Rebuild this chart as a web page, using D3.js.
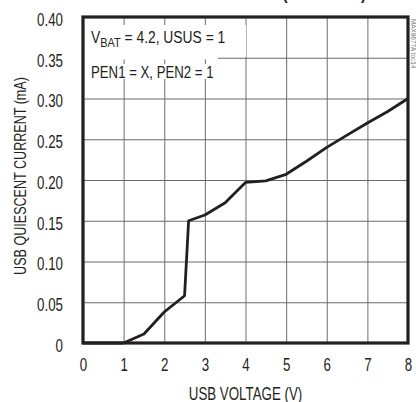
<!DOCTYPE html>
<html>
<head>
<meta charset="utf-8">
<script src="https://cdn.jsdelivr.net/npm/d3@7"></script>
<style>
  html, body { margin: 0; padding: 0; background: #fff; }
  svg { display: block; }
  text { font-family: "Liberation Sans", Arial, sans-serif; fill: #231f20; }
</style>
</head>
<body>
<svg id="chart" width="416" height="402"></svg>
<script>
// USB quiescent current vs. USB voltage (suspend mode)
const voltage = [0, 1, 1.5, 2, 2.5, 2.6, 3, 3.5, 4, 4.5, 5, 5.5, 6, 6.5, 7, 7.5, 8];
const current = [0, 0, 0.011, 0.038, 0.058, 0.150, 0.157, 0.172, 0.197, 0.199, 0.207, 0.223, 0.240, 0.255, 0.270, 0.284, 0.300];

const xTicks = [0, 1, 2, 3, 4, 5, 6, 7, 8];
const yTicks = [0, 0.05, 0.10, 0.15, 0.20, 0.25, 0.30, 0.35, 0.40];
const yTickLabels = ["0", "0.05", "0.10", "0.15", "0.20", "0.25", "0.30", "0.35", "0.40"];

const margin = { left: 83, right: 8, top: 17, bottom: 59 };
const W = 416, H = 402;
const innerW = W - margin.left - margin.right;
const innerH = H - margin.top - margin.bottom;
const K = 0.74;          // horizontal squeeze giving a condensed face

const svg = d3.select("#chart");

const x = d3.scaleLinear().domain([0, 8]).range([margin.left, margin.left + innerW]);
const y = d3.scaleLinear().domain([0, 0.4]).range([margin.top + innerH, margin.top]);

// place a condensed text with its anchor at (px, py)
function condensedText(parent, px, py, k, size, anchor) {
  return parent.append("text")
    .attr("transform", `translate(${px},${py}) scale(${k},1)`)
    .attr("text-anchor", anchor || "start")
    .style("font-size", size + "px");
}

// heading running off the top edge
condensedText(svg, 366, -1, 0.8, 19, "end")
  .style("font-weight", "bold")
  .text("(SUSPEND)");

// grid
const grid = svg.append("g").attr("class", "grid");
grid.append("g")
  .attr("transform", `translate(0,${margin.top + innerH})`)
  .call(d3.axisBottom(x).tickValues(xTicks.slice(1, -1)).tickSize(-innerH).tickFormat(""))
  .call(g => g.select(".domain").remove())
  .call(g => g.selectAll("line").attr("stroke", "#7a7a7a").attr("stroke-width", 1.1));
grid.append("g")
  .attr("transform", `translate(${margin.left},0)`)
  .call(d3.axisLeft(y).tickValues(yTicks.slice(1, -1)).tickSize(-innerW).tickFormat(""))
  .call(g => g.select(".domain").remove())
  .call(g => g.selectAll("line").attr("stroke", "#6a6a6a").attr("stroke-width", 1.1));

// white backing behind the condition notes
const notes = svg.append("g");
notes.append("rect").attr("x", margin.left).attr("y", 25).attr("width", 163).attr("height", 32).attr("fill", "#fff");
notes.append("rect").attr("x", margin.left).attr("y", 56).attr("width", 135).attr("height", 3.5).attr("fill", "#fff");
notes.append("rect").attr("x", margin.left).attr("y", 64).attr("width", 137).attr("height", 15).attr("fill", "#fff");

const t1 = condensedText(notes, 91, 42.5, 0.84, 16.5);
t1.append("tspan").text("V");
t1.append("tspan").attr("dy", 4).style("font-size", "13px").text("BAT");
t1.append("tspan").attr("dy", -4).text(" = 4.2, USUS = 1");
condensedText(notes, 91, 77.5, 0.8, 16.5).text("PEN1 = X, PEN2 = 1");

// curve
const line = d3.line().x((d, i) => x(voltage[i])).y(d => y(d));
svg.append("path")
  .datum(current)
  .attr("fill", "none")
  .attr("stroke", "#231f20")
  .attr("stroke-width", 2.8)
  .attr("stroke-linejoin", "round")
  .attr("d", line);

// frame
svg.append("rect")
  .attr("x", margin.left).attr("y", margin.top)
  .attr("width", innerW).attr("height", innerH)
  .attr("fill", "none").attr("stroke", "#231f20").attr("stroke-width", 3.2);

// tick labels
const xAxis = svg.append("g")
  .attr("transform", `translate(0,${margin.top + innerH})`)
  .call(d3.axisBottom(x).tickValues(xTicks).tickSize(0).tickPadding(15).tickFormat(d3.format("d")));
xAxis.select(".domain").remove();
xAxis.selectAll("text").style("font-size", "18px").attr("transform", `scale(${K},1)`);

const yPad = 20;
const yAxis = svg.append("g")
  .attr("transform", `translate(${margin.left},0)`)
  .call(d3.axisLeft(y).tickValues(yTicks).tickSize(0).tickPadding(yPad).tickFormat((d, i) => yTickLabels[i]));
yAxis.select(".domain").remove();
yAxis.selectAll("text")
  .style("font-size", "18px")
  .attr("dy", "0.47em")
  .attr("x", -yPad / K)
  .attr("transform", `scale(${K},1)`);

// axis titles
condensedText(svg, x(4), 399.5, K, 18, "middle").text("USB VOLTAGE (V)");

svg.append("text")
  .attr("transform", `translate(26,${margin.top + innerH / 2 - 4}) rotate(-90) scale(${K},1)`)
  .attr("text-anchor", "middle")
  .style("font-size", "17px")
  .text("USB QUIESCENT CURRENT (mA)");

// figure tag along the right edge
svg.append("text")
  .attr("transform", "translate(410.5,19) rotate(90) scale(0.85,1)")
  .style("font-size", "7.5px")
  .style("fill", "#777")
  .text("MAX8677A toc14");
</script>
</body>
</html>
